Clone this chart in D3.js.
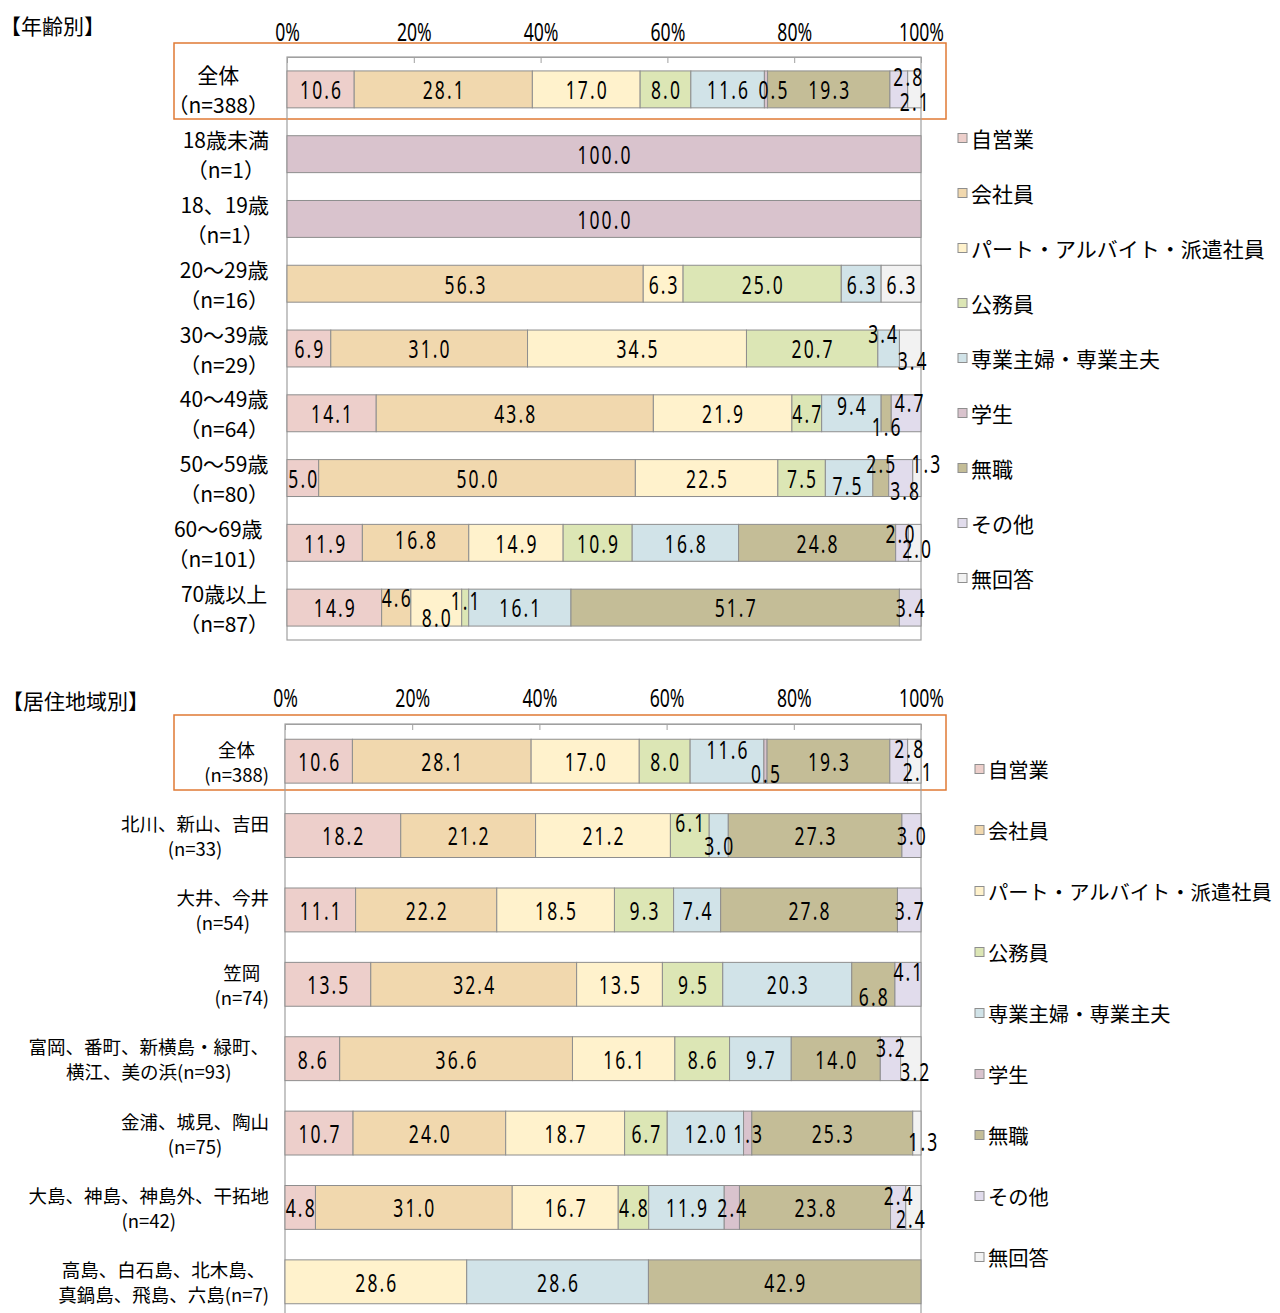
<!DOCTYPE html>
<html><head><meta charset="utf-8">
<script src="https://cdn.jsdelivr.net/npm/d3@7"></script>
<style>body{margin:0;background:#fff} svg{display:block}</style>
</head><body><svg id="c" width="1280" height="1313"></svg>
<script>
const seriesNames = ["自営業","会社員","パート・アルバイト・派遣社員","公務員","専業主婦・専業主夫","学生","無職","その他","無回答"];
const seriesColors = ["#EDCFCB","#F1D8AE","#FFF2CC","#DCE6B5","#D1E3E8","#D9C3CD","#C4BD97","#E1DCEC","#F2F2F2"];
const tickValues = [0,0.2,0.4,0.6,0.8,1];
const tickLabels = ["0%","20%","40%","60%","80%","100%"];

const ageCategories = ["全体\n（n=388）","18歳未満\n（n=1）","18、19歳\n（n=1）","20～29歳\n（n=16）","30～39歳\n（n=29）","40～49歳\n（n=64）","50～59歳\n（n=80）","60～69歳\n（n=101）","70歳以上\n（n=87）"];
const ageValues = [
  [10.6,28.1,17.0,8.0,11.6,0.5,19.3,2.8,2.1],
  [0,0,0,0,0,100.0,0,0,0],
  [0,0,0,0,0,100.0,0,0,0],
  [0,56.3,6.3,25.0,6.3,0,0,0,6.3],
  [6.9,31.0,34.5,20.7,3.4,0,0,0,3.4],
  [14.1,43.8,21.9,4.7,9.4,0,1.6,4.7,0],
  [5.0,50.0,22.5,7.5,7.5,0,2.5,3.8,1.3],
  [11.9,16.8,14.9,10.9,16.8,0,24.8,2.0,2.0],
  [14.9,4.6,8.0,1.1,16.1,0,51.7,3.4,0]
];
const regionCategories = ["全体\n(n=388)","北川、新山、吉田\n(n=33)","大井、今井\n(n=54)","笠岡\n(n=74)","富岡、番町、新横島・緑町、\n横江、美の浜(n=93)","金浦、城見、陶山\n(n=75)","大島、神島、神島外、干拓地\n(n=42)","高島、白石島、北木島、\n真鍋島、飛島、六島(n=7)"];
const regionValues = [
  [10.6,28.1,17.0,8.0,11.6,0.5,19.3,2.8,2.1],
  [18.2,21.2,21.2,6.1,3.0,0,27.3,3.0,0],
  [11.1,22.2,18.5,9.3,7.4,0,27.8,3.7,0],
  [13.5,32.4,13.5,9.5,20.3,0,6.8,4.1,0],
  [8.6,36.6,16.1,8.6,9.7,0,14.0,3.2,3.2],
  [10.7,24.0,18.7,6.7,12.0,1.3,25.3,0,1.3],
  [4.8,31.0,16.7,4.8,11.9,2.4,23.8,2.4,2.4],
  [0,0,28.6,0,28.6,0,42.9,0,0]
];
// label nudges for crowded segments: [row, series, dx, dy]
const ageLabelNudges = [[0,5,7,0],[0,7,9,-13],[0,8,0,12],[4,4,-6,-15],[4,8,2,12],[5,4,0,-8],[5,6,0,13],[5,7,3,-11],[6,4,-2,7],[6,6,0,-15],[6,7,4,12],[6,8,9,-15],[7,1,0,-4],[7,7,-2,-10],[7,8,2,5],[8,1,0,-10],[8,2,0,10],[8,3,0,-7]];
const regionLabelNudges = [[0,4,0,-12],[0,5,0,12],[0,7,10,-13],[0,8,3,10],[1,3,0,-13],[1,4,0,10],[3,6,0,12],[3,7,0,-13],[4,7,0,-12],[4,8,4,12],[5,8,6,8],[6,7,0,-12],[6,8,-3,11]];

const svg = d3.select("#c");
const NUM_FONT = "'Noto Sans', 'DejaVu Sans', sans-serif";
const CJK_FONT = "'Noto Sans CJK JP', 'Noto Sans', sans-serif";
const SX = 0.7;

function numText(g, x, y, str, size) {
  const t = g.append("g").attr("transform", `translate(${x},${y})`);
  t.append("text").attr("transform", `scale(${SX},1)`)
    .attr("text-anchor","middle").attr("dominant-baseline","central")
    .attr("font-family", NUM_FONT).attr("font-size", size).attr("fill","#000")
    .attr("letter-spacing", 3)
    .text(str);
}

function drawChart(cfg) {
  const g = svg.append("g");
  const rows = cfg.values.map((v,i) => {
    const o = {cat: cfg.categories[i]};
    seriesNames.forEach((s,j) => o[s] = v[j]);
    return o;
  });
  const stack = d3.stack().keys(seriesNames).offset(d3.stackOffsetExpand)(rows);
  const x = d3.scaleLinear().domain([0,1]).range([cfg.x0, cfg.x1]);
  const y = d3.scaleBand().domain(cfg.categories).range([cfg.y0, cfg.y1])
    .paddingInner(cfg.pad).paddingOuter(cfg.pad/2);
  const color = d3.scaleOrdinal().domain(seriesNames).range(seriesColors);

  // title
  g.append("text").attr("x", cfg.titleX).attr("y", cfg.titleY)
    .attr("dominant-baseline","central").attr("font-family", CJK_FONT)
    .attr("font-size", 21).text(cfg.title);

  // highlight box
  g.append("rect").attr("x", cfg.box[0]).attr("y", cfg.box[1])
    .attr("width", cfg.box[2]-cfg.box[0]).attr("height", cfg.box[3]-cfg.box[1])
    .attr("fill","none").attr("stroke","#E07A35").attr("stroke-width",1.5);

  // frame
  g.append("rect").attr("x", cfg.x0).attr("y", cfg.y0)
    .attr("width", cfg.x1-cfg.x0).attr("height", cfg.y1-cfg.y0)
    .attr("fill","none").attr("stroke","#A0A0A0").attr("stroke-width",1.2);

  // bars
  const layers = g.append("g").selectAll("g").data(stack).join("g")
    .attr("fill", d => color(d.key));
  layers.selectAll("rect").data(d => d.map((p,i) => ({p, i, key: d.key})).filter(e => e.p.data[e.key] > 0))
    .join("rect")
    .attr("x", e => x(e.p[0])).attr("width", e => x(e.p[1]) - x(e.p[0]))
    .attr("y", e => y(e.p.data.cat)).attr("height", y.bandwidth())
    .attr("stroke","#8E8E8E").attr("stroke-width",1);

  // axis
  const ax = d3.axisTop(x).tickValues(tickValues).tickFormat((d,i) => tickLabels[i])
    .tickSizeInner(-6).tickSizeOuter(0).tickPadding(cfg.tickPad);
  const axg = g.append("g").attr("transform", `translate(0,${cfg.y0})`).call(ax);
  axg.select(".domain").attr("stroke","#A0A0A0").attr("stroke-width",1.2);
  axg.selectAll(".tick line").attr("stroke","#A0A0A0");
  axg.selectAll(".tick text").attr("font-family", NUM_FONT).attr("font-size", 24.5)
    .attr("fill","#000").attr("transform", `scale(0.72,1)`);

  // value labels
  const nudge = new Map(cfg.nudges.map(n => [n[0]+"_"+n[1], [n[2], n[3]]]));
  const lg = g.append("g");
  stack.forEach((layer, j) => {
    layer.forEach((p, i) => {
      const v = p.data[layer.key];
      if (!(v > 0)) return;
      const [dx, dy] = nudge.get(i+"_"+j) || [0,0];
      const cx = (x(p[0]) + x(p[1]))/2 + dx + 1;
      const cy = y(p.data.cat) + y.bandwidth()/2 + dy;
      numText(lg, cx, cy, d3.format(".1f")(v), 25);
    });
  });

  // category labels: block right aligned, lines centred
  cfg.categories.forEach(cat => {
    const lines = cat.split("\n");
    const cy = y(cat) + y.bandwidth()/2;
    const ts = lines.map((ln, k) => g.append("text")
      .attr("y", cy + (k - (lines.length-1)/2) * cfg.lineGap)
      .attr("dominant-baseline","central").attr("text-anchor","middle")
      .attr("font-family", CJK_FONT).attr("font-size", cfg.catFont).attr("fill","#000")
      .text(ln));
    const w = d3.max(ts, t => t.node().getComputedTextLength());
    ts.forEach(t => t.attr("x", cfg.catRight - w/2));
  });

  // legend
  const leg = g.append("g");
  seriesNames.forEach((s, j) => {
    const ly = cfg.legY + j * cfg.legStep;
    leg.append("rect").attr("x", cfg.legX).attr("y", ly - 4.5).attr("width", 9).attr("height", 9)
      .attr("fill", color(s)).attr("stroke","#8E8E8E").attr("stroke-width",1);
    leg.append("text").attr("x", cfg.legX + 13).attr("y", ly)
      .attr("dominant-baseline","central").attr("font-family", CJK_FONT)
      .attr("font-size", cfg.legFont).attr("fill","#000").text(s);
  });
}

drawChart({
  title: "【年齢別】", titleX: 0, titleY: 25,
  categories: ageCategories, values: ageValues, nudges: ageLabelNudges,
  x0: 287, x1: 921, y0: 57, y1: 640, pad: 0.43, tickPad: 16,
  box: [174, 43, 946, 119],
  catRight: 269, catFont: 21, lineGap: 30,
  legX: 958, legY: 138, legStep: 55, legFont: 21
});
drawChart({
  title: "【居住地域別】", titleX: 2, titleY: 700,
  categories: regionCategories, values: regionValues, nudges: regionLabelNudges,
  x0: 285, x1: 921, y0: 724, y1: 1319, pad: 0.41, tickPad: 17,
  box: [174, 715, 946, 790],
  catRight: 269, catFont: 18.5, lineGap: 25,
  legX: 975, legY: 769, legStep: 61, legFont: 20.3
});
</script></body></html>
